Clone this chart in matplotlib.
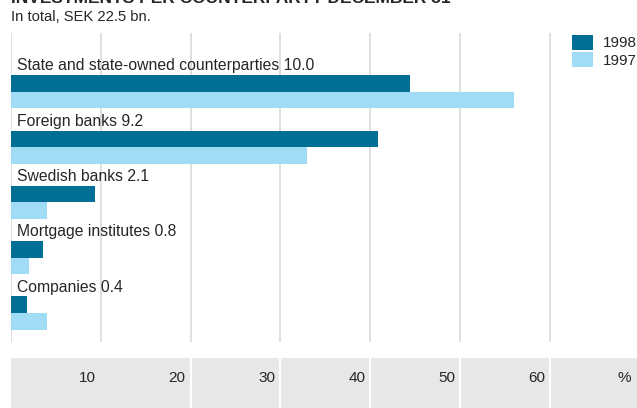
import matplotlib.pyplot as plt
from matplotlib.patches import Patch

# Investments per counterparty, % of total
categories = ["State and state-owned counterparties 10.0",
              "Foreign banks 9.2",
              "Swedish banks 2.1",
              "Mortgage institutes 0.8",
              "Companies 0.4"]
values_1998 = [44.4, 40.9, 9.4, 3.6, 1.8]
values_1997 = [56.0, 33.0, 4.0, 2.0, 4.0]
ticks = [10, 20, 30, 40, 50, 60]

DARK = "#006F95"
LIGHT = "#A0DCF6"
TXT = "#262626"
FONT = ["Liberation Sans", "DejaVu Sans"]
plt.rcParams["font.family"] = FONT

W, H = 637, 408
fig = plt.figure(figsize=(W / 100, H / 100), dpi=100)

x0 = 11 / W
xmax = (W - 11) / 8.98

#%% main bars
ax = fig.add_axes([x0, 1 - 342 / H, 1 - x0, (342 - 33) / H])
n = len(categories)
pos = list(range(n))
h = 0.30
ax.barh([p - h / 2 for p in pos], values_1998, height=h, color=DARK, zorder=3)
ax.barh([p + h / 2 for p in pos], values_1997, height=h, color=LIGHT, zorder=3)
for p, lab in zip(pos, categories):
    ax.text(0.67, p - 0.385, lab, fontsize=11.3, color=TXT, va="baseline", ha="left", zorder=4)

ax.set_xlim(0, xmax)
ax.set_ylim(n - 1 + 0.524, -1.063)
ax.set_xticks([0] + ticks)
ax.grid(axis="x", color="#D9D9D9", linewidth=1.2, zorder=0)
ax.tick_params(length=0, labelbottom=False, labelleft=False)
ax.set_yticks([])
for s in ax.spines.values():
    s.set_visible(False)

#%% bottom band with tick labels
bx = fig.add_axes([x0, 0, 1 - x0, 50 / H])
bx.set_facecolor("#E6E7E9")
bx.set_xlim(0, xmax)
bx.set_ylim(0, 1)
for t in ticks[1:]:
    bx.axvline(t, color="white", linewidth=1.5)
for t in ticks:
    bx.text(t - 0.56, 0.59, str(t), fontsize=11, color=TXT, ha="right", va="center")
bx.text((630.7 - 11) / 8.98, 0.59, "%", fontsize=11, color=TXT, ha="right", va="center")
bx.set_xticks([])
bx.set_yticks([])
for s in bx.spines.values():
    s.set_visible(False)

#%% titles (top line is cropped in the original)
fig.text(11 / W, 1 - 3 / H, "INVESTMENTS PER COUNTERPARTY DECEMBER 31", fontsize=12.5,
         fontweight="bold", color=TXT, va="baseline", ha="left")
fig.text(11 / W, 1 - 21 / H, "In total, SEK 22.5 bn.", fontsize=10.6, color=TXT,
         va="baseline", ha="left")

#%% legend
handles = [Patch(facecolor=DARK, label="1998"), Patch(facecolor=LIGHT, label="1997")]
fig.legend(handles=handles, loc="upper left", bbox_to_anchor=(572 / W, 1 - 34.7 / H),
           frameon=False, fontsize=11, handlelength=1.35, handleheight=1.15,
           handletextpad=0.68, labelspacing=0.09, borderpad=0, borderaxespad=0,
           labelcolor=TXT)

fig.savefig("out.png", dpi=100)
